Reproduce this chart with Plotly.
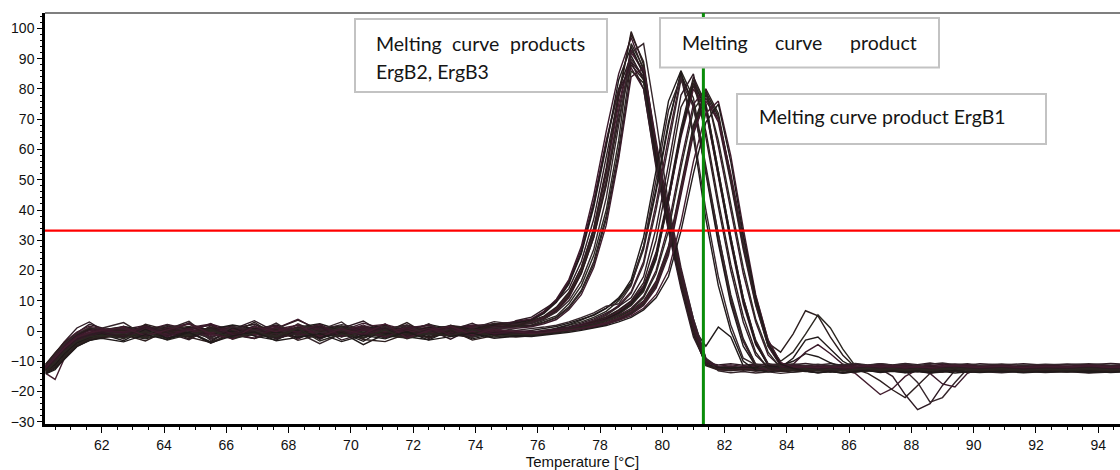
import plotly.graph_objects as go

# Melting-curve derivative traces (-dF/dT) sampled on a shared temperature grid (°C)
temperature = [
    60.2, 60.5, 60.8, 61.2, 61.6, 62.0,
    62.7, 63.4, 64.1, 64.8, 65.5, 66.2, 66.9, 67.6, 68.3, 69.0, 69.7, 70.4, 71.1, 71.8, 72.5, 73.2, 73.9, 74.6, 75.3,
    75.8, 76.2, 76.6, 77.0, 77.4, 77.8, 78.2, 78.6, 79.0, 79.4, 79.8, 80.2, 80.6, 81.0, 81.4, 81.8, 82.2, 82.6, 83.0, 83.4, 83.8,
    84.2, 84.6, 85.0, 85.4, 85.8, 86.2, 86.6, 87.0, 87.4, 87.8, 88.2, 88.6, 89.0, 89.4, 89.8, 90.2,
    90.9, 91.6, 92.3, 93.0, 93.7, 94.4, 95.1,
]

# Products ErgB2 / ErgB3 (peak near 79 °C)
a01 = [-12.5, -9, -5.5, -2, -0.5, 0.5,
       1.2, 0.3, 1.8, -0.6, 0.9, 1.5, -0.2, 0.8, 3.6, 0.4, -0.8, 1.1, 0.6, 1.9, 0.2, 1.0, 1.6, 2.2, 2.4,
       3, 4.5, 7.5, 12, 20, 33, 52, 77, 99, 88, 60, 37, 17, 1, -10.5, -12.5, -12, -12.6, -12.2, -12.8, -12.1,
       -12.4, -12.9, -12.2, -12.6, -12.1, -12.7, -12.3, -12.8, -12.2, -12.5, -12.9, -12.3, -12.6, -12.1, -12.7, -12.4,
       -12.2, -12.8, -12.3, -12.6, -12.1, -12.7, -12.4]
a02 = [-13, -11, -7, -3, -1, 0,
       0.5, 1.8, -0.4, 1.1, 2.3, 0.2, 1.4, -0.9, 0.8, 1.7, 0.1, 2.6, 0.7, -0.3, 1.3, 0.9, 2.0, 1.8, 3.2,
       4, 6.5, 10.5, 17, 28, 45, 66, 85, 97, 86, 58, 35, 16, 0, -11, -12.8, -13.1, -12.7, -13.2, -12.9, -13.3,
       -12.8, -13.2, -12.9, -13.4, -12.7, -13.1, -12.8, -13.3, -12.9, -13.2, -12.6, -13.0, -13.4, -12.8, -13.1, -12.7,
       -13.2, -12.8, -13.3, -12.9, -13.1, -12.7, -13.2]
a03 = [-11.5, -8, -4, -1.5, 0.5, -0.5,
       -0.8, 0.6, 1.2, -1.5, 0.3, 0.9, 2.2, -0.2, 1.0, -0.7, 1.5, 0.4, -1.1, 0.8, 1.8, -0.4, 0.6, 1.2, 1.6,
       2, 3.5, 5, 9, 15, 25, 40, 63, 95, 87, 61, 38, 19, 3, -9.5, -12.2, -11.8, -12.3, -11.9, -12.4, -12.0,
       -11.7, -12.2, -11.9, -12.4, -11.8, -12.1, -12.5, -11.9, -12.2, -11.7, -12.3, -12.0, -11.8, -12.4, -12.1, -11.9,
       -12.3, -11.8, -12.2, -12.5, -11.9, -12.1, -12.4]
a04 = [-14, -16, -9, -4, -2, -1,
       -1.5, 0.2, -0.8, 1.3, -0.2, 0.7, -1.2, 0.4, 1.1, -0.6, 0.3, 1.6, -0.9, 0.5, 1.2, 0.1, 1.4, 1.0, 2.0,
       2.5, 4, 6.5, 11, 19, 31, 49, 73, 93, 85, 57, 34, 15, -1, -11, -12.3, -12.6, -12.1, -12.5, -12.8, -12.2,
       -12.6, -12.1, -12.7, -12.3, -12.9, -14, -17.5, -21, -19, -15, -12.8, -12.2, -12.6, -12.1, -12.5, -12.8,
       -12.3, -12.6, -12.1, -12.7, -12.4, -12.2, -12.6]
a05 = [-12, -10, -6.5, -2.5, -1, 0,
       0.8, -0.5, 1.4, 0.2, -1.0, 1.1, 0.6, 2.0, -0.3, 0.9, 1.7, -0.4, 1.0, 0.3, 2.2, 0.7, 1.1, 2.4, 2.8,
       3.5, 6, 10, 16, 26, 42, 62, 80, 91, 83, 56, 36, 17, 1, -5, 1.3, -2, -11.5, -12.4, -12.0, -12.6,
       -12.2, -12.7, -12.0, -12.5, -12.9, -12.3, -12.6, -12.1, -12.8, -12.4, -12.0, -12.6, -12.3, -12.9, -12.2, -12.5,
       -12.8, -12.3, -12.6, -12.0, -12.5, -12.8, -12.3]
a06 = [-12.8, -8.5, -5, -1.8, 0.2, -0.2,
       0.1, 1.3, -0.6, 0.8, 1.9, -0.2, 0.6, 1.5, -0.9, 0.4, 2.1, 0.8, -0.5, 1.3, 0.2, 1.8, 0.9, 1.3, 2.2,
       2.8, 4.2, 7, 11.5, 19.5, 32, 50, 72, 90, 84, 58, 37, 18, 2, -10, -12.0, -11.6, -12.1, -11.7, -12.2, -11.8,
       -11.5, -12.0, -11.7, -12.2, -11.6, -12.0, -11.8, -12.3, -11.6, -11.9, -12.2, -11.7, -12.0, -11.5, -12.1, -11.8,
       -12.0, -11.6, -12.1, -11.8, -12.2, -11.7, -12.0]
a07 = [-11, -7.5, -3.5, 1, 3, 0.5,
       -0.3, 0.9, 0.2, -1.2, 1.0, 0.5, 3.4, -0.4, 0.3, 1.2, -0.8, 0.6, 1.5, -0.2, 0.7, 1.4, 0.3, 0.8, 1.5,
       1.8, 3, 4.5, 8, 13.5, 23, 38, 60, 89, 84, 59, 39, 20, 4, -9, -11.9, -12.4, -12.0, -12.5, -12.1, -12.6,
       -12.3, -12.7, -12.1, -12.6, -12.2, -12.8, -12.4, -12.0, -12.5, -12.9, -12.3, -12.6, -12.1, -12.7, -12.4, -12.2,
       -12.6, -12.2, -12.7, -12.3, -12.5, -12.1, -12.6]
a08 = [-13.5, -12, -8, -4.5, -2.5, -1.5,
       -0.5, -1.8, 0.4, -0.2, 1.1, -1.0, 0.3, -0.6, 0.9, 1.6, -0.3, 0.5, -1.2, 0.8, 0.1, 1.2, 0.6, 1.5, 1.9,
       2.6, 4, 6.8, 11.5, 19, 31, 48, 70, 88, 83, 57, 35, 16, 0, -11.5, -12.9, -12.5, -13.0, -12.6, -13.1, -12.7,
       -13.0, -12.6, -13.2, -12.8, -13.1, -12.7, -14, -16.5, -19.5, -22, -18, -14, -12.8, -13.1, -12.6, -13.0,
       -12.7, -13.2, -12.8, -13.0, -12.6, -13.1, -12.8]
a09 = [-12.2, -9.5, -6, -2.8, -1.2, 0.3,
       1.0, 0.2, 2.2, 0.6, -0.5, 1.4, 0.1, 0.9, 3.9, -0.1, 0.7, 1.2, 0.4, 2.0, -0.6, 0.8, 1.6, 2.3, 3.0,
       3.8, 6.2, 10, 16.5, 27, 43, 63, 80, 87, 80, 55, 35, 17, 2, -10, -12.3, -11.9, -12.4, -12.0, -12.5, -12.1,
       -12.4, -12.0, -12.5, -12.1, -12.6, -12.2, -12.7, -12.3, -12.0, -12.5, -12.1, -12.6, -12.2, -12.8, -12.3, -12.0,
       -12.4, -12.1, -12.6, -12.2, -12.7, -12.3, -12.0]
a10 = [-12.6, -10.5, -7.5, -3.5, -1.5, -0.8,
       0.3, -0.9, 0.7, 1.5, -0.4, 0.2, 1.0, -1.3, 0.6, 0.3, 1.4, -0.7, 0.9, 0.2, -0.5, 1.1, 0.4, 1.0, 1.3,
       1.6, 2.8, 4.3, 7.5, 13, 22, 37, 58, 86, 82, 58, 38, 19, 3, -9.5, -12.1, -12.5, -12.0, -12.4, -12.1, -12.6,
       -12.2, -12.6, -12.1, -12.5, -12.0, -12.4, -12.7, -12.2, -12.6, -12.1, -12.5, -12.9, -12.3, -12.6, -12.2, -12.5,
       -12.1, -12.5, -12.2, -12.7, -12.3, -12.6, -12.2]
a11 = [-13.2, -9.8, -6.2, -3.2, -1.6, -0.4,
       0.6, -0.3, 1.1, 2.4, 0.0, 1.3, -0.6, 0.7, 1.9, 0.5, -0.2, 1.4, 2.2, 0.3, 1.0, -0.1, 1.2, 1.7, 2.3,
       3.1, 4.6, 7.2, 12.5, 21, 34, 53, 75, 92, 86, 59, 36, 16, 0, -11, -12.6, -13.0, -12.5, -12.9, -12.4, -12.8,
       -12.5, -12.9, -12.4, -12.8, -13.1, -12.6, -12.9, -12.5, -13.0, -12.6, -12.9, -12.4, -12.8, -12.5, -13.0, -12.7,
       -12.9, -12.5, -12.8, -13.1, -12.6, -12.9, -12.5]
a12 = [-11.8, -8.8, -4.8, -1.2, 0.8, 0.2,
       1.5, 0.4, -0.7, 1.2, 0.6, 2.0, 0.9, -0.4, 1.3, 2.4, 0.2, 0.8, 1.9, -0.3, 1.1, 1.5, 0.7, 2.0, 2.6,
       3.6, 5.8, 9.5, 15.5, 25.5, 41, 61, 83, 94, 85, 57, 35, 15, -1, -11.2, -12.0, -12.3, -11.8, -12.2, -11.9, -12.4,
       -12.0, -12.3, -11.8, -12.2, -12.5, -11.9, -12.2, -11.8, -12.3, -12.0, -12.4, -11.9, -12.2, -11.7, -12.1, -12.4,
       -11.9, -12.3, -12.0, -12.4, -11.8, -12.2, -12.0]
a13 = [-13.8, -10.2, -6.4, -2.9, -0.8, 0.9,
       2.8, -1.6, 0.5, 3.2, -2.4, 1.2, -0.9, 2.6, -1.8, 0.4, 3.0, -2.2, 1.6, -0.7, 2.4, -1.3, 0.9, 3.1, 2.2,
       2.7, 3.9, 6.2, 10, 16.5, 27, 44, 68, 92, 95, 70, 42, 21, 4, -9, -13.2, -13.8, -13.4, -13.9, -13.5, -14.0,
       -13.6, -13.2, -13.8, -13.4, -13.9, -13.5, -13.1, -13.7, -13.3, -13.8, -13.4, -13.9, -13.5, -13.2, -13.7, -13.4,
       -13.8, -13.3, -13.7, -13.4, -13.9, -13.5, -13.2]
a14 = [-12.0, -8.0, -4.4, -0.6, 2.2, 1.0,
       -2.6, 1.9, -0.8, 2.7, -3.1, 0.6, 2.3, -1.5, 1.4, -2.8, 0.9, 3.3, -1.1, 1.8, -2.5, 0.2, 2.6, -0.6, 3.4,
       4.6, 7.2, 9.8, 14, 23, 37, 57, 78, 89, 80, 54, 33, 14, -2, -10.5, -11.2, -10.8, -11.3, -10.9, -11.4, -10.7,
       -11.1, -10.7, -11.2, -10.8, -11.3, -10.9, -11.4, -10.8, -11.2, -10.7, -11.1, -10.6, -11.2, -10.9, -11.3, -10.8,
       -11.2, -10.8, -11.3, -10.9, -11.1, -10.7, -11.2]
a15 = [-12.9, -9.6, -5.9, -2.3, -1.0, -0.2,
       -1.9, 2.2, 0.4, -2.6, 1.7, -0.9, 2.9, -1.7, 0.8, 2.1, -2.0, 1.3, -0.4, 2.8, -1.4, 1.9, -0.3, 2.5, 1.6,
       3.4, 4.9, 7.9, 12.8, 21, 34, 54, 79, 98, 89, 61, 37, 16, 0, -11.2, -12.7, -13.1, -12.6, -13.2, -12.8, -13.3,
       -12.9, -13.3, -12.8, -13.2, -12.7, -13.1, -12.6, -13.2, -12.8, -13.3, -12.9, -13.4, -12.8, -13.1, -12.7, -13.2,
       -12.8, -13.3, -12.9, -13.2, -12.7, -13.1, -12.9]
a16 = [-11.6, -8.4, -5.0, -1.4, 0.6, -0.9,
       1.6, -2.1, 0.8, -0.6, 2.5, -1.9, 0.3, 1.7, -2.7, 1.1, -0.5, 2.0, -1.6, 0.7, -2.3, 1.5, -0.8, 1.2, 0.9,
       1.4, 2.4, 3.8, 7, 12, 21, 35, 57, 84, 87, 63, 40, 20, 3, -10, -11.6, -11.2, -11.7, -11.3, -11.8, -11.4,
       -11.2, -11.6, -11.1, -11.7, -11.3, -11.8, -11.4, -11.0, -11.5, -11.2, -11.7, -11.3, -11.8, -11.4, -11.1, -11.6,
       -11.3, -11.7, -11.2, -11.6, -11.1, -11.5, -11.3]

# Product ErgB1 and the second product (peaks between 80.4 and 81.8 °C)
b01 = [-12.4, -9.2, -5.8, -2.4, -1.4, -1.0,
       -0.6, -1.9, 0.3, -1.2, -0.1, -2.3, -0.8, 0.6, -1.5, -0.4, 0.8, -1.7, -0.2, -1.0, 0.4, -1.4, -0.5, -1.1, -0.3,
       -0.6, 0.3, 0.8, 1.8, 3, 4.5, 6.5, 10, 15.5, 27, 46, 68, 86, 77, 55, 32, 12, -2.5, -11, -12.6, -12.1,
       -12.5, -12.1, -12.6, -12.2, -12.8, -12.3, -12.6, -12.0, -12.5, -12.2, -12.7, -12.3, -12.0, -12.6, -12.2, -12.5,
       -12.3, -12.7, -12.2, -12.5, -12.1, -12.6, -12.3]
b02 = [-13.8, -11.5, -7.2, -3.6, -1.8, -2.2,
       -1.3, -0.2, -2.1, -0.7, 0.5, -1.5, -0.3, -2.4, -0.9, 0.2, -1.3, -0.5, -2.0, 0.1, -0.8, -1.6, 0.3, -0.9, -1.4,
       -0.8, -0.2, 0.6, 1.2, 2.2, 3.6, 5.5, 8.5, 13, 23, 42, 64, 84, 75, 53, 30, 10, -3.5, -11.5, -12.9, -12.5,
       -12.9, -12.4, -13.0, -12.6, -13.1, -12.7, -12.9, -12.5, -13.2, -12.8, -12.4, -13.0, -12.6, -12.9, -12.5, -13.1,
       -12.7, -13.0, -12.6, -13.2, -12.8, -12.5, -12.9]
b03 = [-11.2, -7.8, -4.4, -1.6, 0.4, -0.6,
       -1.0, 0.4, -0.6, -1.8, 0.9, -0.3, -1.4, 0.2, -0.7, -2.0, 0.5, -0.9, 0.3, -1.5, -0.4, 0.6, -1.2, -0.2, -0.6,
       0.2, 0.9, 1.5, 2.6, 3.8, 5.2, 7.5, 11, 16, 28, 47, 69, 85, 75, 52, 29, 9, -5, -11.5, -12.0, -11.4,
       -10, -7.5, -8.5, -10.5, -12.0, -11.6, -12.0, -11.5, -11.9, -11.4, -11.8, -12.1, -11.6, -11.9, -11.4, -11.8,
       -11.6, -12.0, -11.5, -11.9, -11.6, -12.1, -11.7]
b04 = [-12.9, -10.2, -6.8, -3.8, -2.6, -1.6,
       -2.2, -0.8, -1.5, 0.3, -2.6, -1.1, 0.0, -1.8, -0.6, -4.2, -0.9, 0.2, -1.6, -2.3, -0.4, -1.2, -2.1, -0.5, -1.3,
       -1.5, -0.6, 0.2, 0.9, 2.0, 3.3, 5.2, 8, 12.5, 22, 40, 62, 83, 74, 53, 31, 11, -3, -11, -12.7, -13.2,
       -12.8, -13.3, -12.9, -13.4, -12.8, -13.2, -12.9, -13.5, -13.0, -12.7, -13.3, -12.9, -13.4, -12.8, -13.1, -13.5,
       -13.0, -13.4, -12.9, -13.3, -12.8, -13.2, -13.5]
b05 = [-12.2, -8.6, -5.2, -2.2, -0.9, -0.3,
       -0.4, -1.6, 0.7, -0.9, -0.1, 1.0, -1.3, -0.5, 0.4, -1.7, -0.2, 0.9, -0.8, -1.9, 0.2, -0.6, 0.5, -1.0, -0.4,
       -1.0, -0.3, 0.4, 0.8, 1.9, 3, 4.6, 6.8, 9.8, 15, 26, 45, 67, 84, 75, 53, 31, 11, -3.5, -11, -12.4,
       -12.0, -12.5, -12.1, -12.6, -12.2, -12.7, -12.3, -12.5, -15, -21, -26, -24, -18, -13, -12.2, -12.5,
       -12.1, -12.6, -12.2, -12.5, -12.0, -12.4, -12.7]
b06 = [-13.0, -10.8, -7.0, -3.2, -1.4, -0.6,
       -1.2, 0.1, -0.5, -2.0, -0.3, 0.6, -1.0, -2.2, 0.2, -0.7, -1.5, 0.4, -0.3, -1.1, 0.7, -1.8, -0.6, 0.1, -0.8,
       -0.5, -1.0, -0.2, 0.6, 1.4, 2.4, 3.8, 5.8, 8.6, 13.5, 24, 43, 65, 82, 74, 52, 30, 10, -4, -11.2, -12.6,
       -12.3, -12.8, -12.4, -12.9, -12.5, -12.2, -12.7, -12.3, -12.8, -12.4, -12.9, -12.5, -12.1, -12.6, -12.3, -12.8,
       -12.4, -12.9, -12.5, -12.2, -12.7, -12.4, -12.8]
b07 = [-11.6, -8.0, -4.6, -1.9, -0.7, 0.0,
       0.3, -1.0, -0.2, 0.8, -1.4, -0.6, 0.5, -0.9, -2.1, 0.0, -0.7, 1.1, -0.4, -1.3, -0.1, 0.6, -1.0, -0.3, -0.2,
       0.0, -0.6, 0.3, 1.1, 2.0, 3.2, 4.4, 6.4, 9.4, 14.5, 25, 44, 66, 81, 73, 51, 29, 9, -4.5, -11, -12.0,
       -11, -7, -4.5, -7.5, -11, -12.3, -11.9, -12.4, -12.0, -12.5, -12.1, -11.8, -12.3, -11.9, -12.4, -12.0,
       -12.3, -11.9, -12.4, -12.0, -12.5, -11.8, -12.2]
b08 = [-12.7, -9.8, -6.6, -3.0, -2.0, -1.2,
       -1.8, -0.5, -2.4, -1.0, 0.2, -1.3, -2.5, -0.4, -1.1, 0.3, -1.9, -0.8, -2.2, -0.2, -1.4, -0.6, -1.7, -0.9, -1.1,
       -1.3, -0.7, 0.1, 0.5, 1.2, 2.2, 3.6, 5.5, 8.4, 13, 23.5, 43, 66, 83, 75, 53, 31, 11, -3, -10.8, -12.7,
       -13.0, -12.6, -13.1, -12.7, -13.2, -12.8, -13.0, -12.6, -13.1, -12.7, -13.3, -12.9, -12.6, -13.1, -12.8, -13.2,
       -12.8, -13.1, -12.7, -13.0, -12.6, -13.2, -12.9]
b09 = [-11.4, -7.4, -3.6, -0.4, 1.6, 0.8,
       -0.2, 0.9, -0.8, 0.3, -1.2, 0.6, -0.5, 1.2, -0.9, -0.1, 0.5, -1.4, 0.2, -0.6, 0.8, -0.7, 0.1, -0.4, -0.7,
       -0.9, -0.4, 0.0, 0.7, 1.6, 2.7, 4.2, 6.2, 9.2, 14.2, 25, 43, 64, 80, 73, 52, 30, 10.5, -3.5, -11, -12.1,
       -11.7, -12.2, -11.8, -12.3, -11.9, -11.6, -12.1, -11.7, -12.2, -11.8, -12.3, -11.9, -11.5, -12.0, -11.7, -12.2,
       -11.8, -12.3, -11.9, -11.6, -12.1, -11.7, -12.2]
b10 = [-14.2, -12.8, -9.0, -5.0, -3.2, -2.0,
       -1.4, -2.6, -0.9, -1.8, -0.2, -2.3, -1.1, -0.3, -2.0, -1.4, -0.5, -4.5, -1.0, -0.4, -1.9, -0.8, -1.5, -0.6, -1.2,
       -1.1, -0.5, 0.0, 0.7, 1.5, 2.6, 4.0, 6.0, 9.0, 14, 24.5, 44, 65, 82, 74, 52, 30, 10, -4, -11.5, -12,
       -9, -3, -2, -6, -10, -12.2, -12.6, -12.1, -12.5, -12.0, -12.4, -12.7, -12.2, -12.6, -12.1, -12.5,
       -12.2, -12.6, -12.1, -12.5, -12.8, -12.3, -12.6]
b11 = [-12.0, -8.8, -5.4, -2.6, -1.2, -0.5,
       -0.9, 0.4, -1.3, -0.2, 0.7, -1.0, -0.4, 0.9, -1.6, -0.3, 0.2, -0.9, 0.8, -1.2, -0.5, 0.4, -0.8, -1.3, -0.6,
       -1.0, -0.8, -0.3, 0.2, 0.8, 1.6, 2.6, 4.2, 6.2, 9.4, 15.5, 27, 47, 67, 79, 71, 51, 29, 9.5, -4.5, -11.2,
       -12.3, -12.8, -12.4, -12.9, -12.5, -12.2, -12.7, -12.3, -12.8, -13, -17, -23.5, -22, -17, -12.5, -12.6,
       -12.3, -12.8, -12.4, -12.7, -12.2, -12.6, -12.9]
b12 = [-13.4, -10.6, -7.2, -3.8, -2.2, -1.4,
       -2.0, -0.7, -1.6, -0.3, -4.0, -1.0, 0.1, -1.7, -0.8, -2.4, -0.5, -1.3, -0.1, -1.9, -0.9, -1.5, -0.4, -1.2, -1.5,
       -1.3, -1.1, -0.6, -0.1, 0.6, 1.3, 2.3, 3.8, 5.8, 8.8, 14.8, 26, 46, 66, 78, 70, 50, 28, 9, -5, -11.5,
       -12.5, -12.9, -12.6, -13.1, -12.7, -13.2, -12.8, -12.5, -13.0, -12.6, -13.1, -12.7, -13.3, -12.8, -12.6, -13.0,
       -12.7, -13.1, -12.8, -13.2, -12.6, -13.0, -12.7]
b13 = [-11.0, -7.2, -3.8, -1.0, 0.9, 0.4,
       0.1, -1.1, 0.6, -0.4, 1.0, -0.8, 0.3, -1.5, 0.5, -0.2, 0.9, -1.0, -0.3, 0.7, -0.9, 0.2, -0.6, 0.4, -0.4,
       -0.7, -0.2, 0.2, 0.6, 1.2, 2.0, 3.1, 4.6, 6.8, 10, 16.5, 28, 48, 68, 80, 72, 51, 29, 10, -4, -7,
       -1, 6.7, 5, -2, -8, -12, -11.7, -12.2, -11.8, -12.3, -11.9, -11.6, -12.1, -11.7, -12.2, -11.8,
       -12.1, -11.7, -12.2, -11.8, -12.3, -11.9, -11.6]
b14 = [-12.5, -9.6, -6.0, -3.0, -1.6, -0.9,
       -1.5, -0.2, -1.1, 0.4, -1.8, -0.6, -1.3, 0.2, -0.9, -2.0, -0.4, -1.2, 0.5, -1.5, -0.7, -0.1, -1.4, -0.8, -1.0,
       -1.2, -0.9, -0.4, 0.0, 0.5, 1.2, 2.1, 3.6, 5.5, 8.4, 14.2, 25, 45, 65, 77, 69, 49, 27, 8.5, -5, -11.3,
       -12.4, -12.0, -12.5, -12.1, -12.6, -12.2, -12.7, -12.3, -12.0, -12.5, -12.6, -14, -17.5, -18.5, -14, -12.3,
       -12.6, -12.2, -12.7, -12.3, -12.0, -12.5, -12.2]
b15 = [-13.0, -11.8, -8.4, -4.4, -2.4, -1.8,
       -1.1, -2.3, -0.6, -1.5, 0.0, -1.9, -0.8, -2.5, -0.5, -1.2, -1.8, -0.3, -1.4, -2.1, -0.6, -1.0, -1.9, -0.7, -1.2,
       -1.4, -0.9, -0.5, 0.1, 0.7, 1.5, 2.5, 4.0, 6.0, 9.0, 15.2, 26.5, 46.5, 67, 79, 71, 50, 28.5, 9.5, -4.5, -10,
       -7, -1, 5.3, 1, -6, -11.5, -12.9, -12.5, -13.0, -12.6, -13.1, -12.7, -12.4, -12.9, -12.5, -13.0,
       -12.6, -13.0, -12.7, -13.2, -12.8, -12.5, -12.9]
b16 = [-12.3, -9.0, -5.6, -2.0, -0.4, 0.2,
       -0.4, 0.7, -0.9, 0.3, -0.6, 1.0, -1.2, 0.2, 0.8, -0.5, -1.3, 0.4, -0.2, 0.9, -0.7, 0.1, -0.3, 0.5, -0.2,
       -0.6, -0.3, 0.1, 0.5, 1.0, 1.8, 2.8, 4.3, 6.4, 9.6, 16, 27.5, 47, 66, 76, 70, 52, 31, 11.5, -3, -10.5,
       -12.2, -11.8, -12.3, -11.9, -12.4, -12.0, -11.7, -12.2, -11.8, -12.3, -11.9, -12.4, -12.0, -11.6, -12.1, -11.7,
       -12.0, -11.6, -12.1, -11.8, -12.3, -11.9, -12.2]
b17 = [-13.1, -11.2, -7.6, -3.9, -2.1, -1.0,
       -3.2, 0.6, -2.4, -0.2, -3.6, 1.1, -1.7, -3.0, 0.4, -2.2, -0.5, -3.4, 0.8, -1.9, -2.9, 0.2, -2.6, -0.9, -1.6,
       -0.9, -0.2, 0.9, 2.1, 3.6, 5.4, 7.6, 10.5, 17, 31, 53, 76, 86, 64, 37, 15, 0, -10, -12.9, -13.5, -13.1,
       -13.6, -13.2, -13.7, -13.3, -13.8, -13.4, -13.0, -13.5, -13.1, -13.6, -13.2, -13.7, -13.3, -13.9, -13.4, -13.1,
       -13.5, -13.1, -13.6, -13.2, -13.7, -13.3, -13.6]
b18 = [-11.8, -8.2, -4.2, -0.9, 1.2, 0.5,
       0.9, -1.4, 2.1, -0.3, -2.2, 1.4, 0.2, -1.8, 2.4, -0.7, 1.0, -2.5, 0.6, 1.8, -1.2, 0.3, -2.0, 1.2, 0.2,
       0.7, 1.3, 1.9, 3.0, 4.4, 6.0, 8.2, 9, 15, 28, 50, 73, 84, 66, 40, 18, 2, -9, -11.2, -10.8, -11.3,
       -10.9, -11.4, -11.0, -11.5, -11.1, -10.7, -11.2, -10.8, -11.3, -10.9, -11.4, -11.0, -10.6, -11.1, -10.8, -11.3,
       -10.9, -11.4, -11.0, -11.2, -10.8, -11.3, -11.0]
b19 = [-12.6, -9.4, -6.1, -2.7, -1.3, -0.4,
       -2.1, 1.3, -0.6, -2.9, 0.9, -1.5, 1.7, -2.6, -0.2, 1.5, -3.0, -0.8, 1.1, -1.9, 0.5, -2.7, 0.8, -1.0, -0.5,
       -0.7, 0.0, 0.6, 1.4, 2.6, 4.0, 5.9, 8.1, 11, 18, 34, 55, 78, 85, 64, 41, 20, 3, -8, -12.0, -12.4,
       -12.1, -12.6, -12.2, -12.7, -12.3, -11.9, -12.4, -12.0, -12.5, -12.1, -12.6, -12.2, -11.8, -12.3, -12.0, -12.5,
       -12.1, -12.6, -12.2, -12.4, -12.0, -12.5, -12.2]
b20 = [-13.6, -12.1, -8.8, -4.8, -2.8, -2.2,
       -1.2, -3.3, 0.1, -2.0, -3.8, -0.6, -2.5, 0.5, -3.1, -1.3, -0.1, -2.8, -3.5, -0.9, -2.2, 0.3, -3.0, -1.5, -2.0,
       -1.6, -1.0, -0.3, 0.6, 1.7, 3.0, 4.7, 7.0, 10, 16, 30, 51, 74, 82, 66, 43, 22, 5, -7, -12.4, -13.3,
       -13.0, -13.4, -12.9, -13.5, -13.1, -13.6, -13.2, -12.8, -13.3, -12.9, -13.4, -13.0, -13.5, -13.1, -13.6, -13.2,
       -12.9, -13.4, -13.0, -13.5, -13.1, -13.3, -12.9]
b21 = [-11.9, -8.6, -5.3, -1.7, 0.1, 0.6,
       -0.7, 1.6, -1.9, 0.8, 2.0, -1.1, -2.4, 1.3, -0.4, 2.2, -1.7, 0.5, -2.1, 1.0, 1.9, -1.4, 0.7, -0.9, 0.1,
       -0.3, 0.1, 0.5, 1.0, 1.8, 2.6, 3.7, 5.2, 7.5, 11.5, 20, 35, 56, 75, 80, 61, 40, 19, 3, -8, -11.8,
       -11.4, -11.9, -11.5, -12.0, -11.6, -11.2, -11.7, -11.3, -11.8, -11.4, -11.9, -11.5, -11.1, -11.6, -11.3, -11.8,
       -11.4, -11.9, -11.5, -11.7, -11.3, -11.8, -11.5]
b22 = [-13.3, -10.4, -6.9, -3.4, -1.9, -1.3,
       -2.4, -0.1, -3.0, -1.2, 0.6, -2.7, -0.5, -1.9, 0.9, -3.3, -1.0, -2.2, 0.3, -2.6, -0.7, -1.6, 0.5, -2.0, -1.1,
       -1.2, -0.6, 0.0, 0.5, 1.3, 2.2, 3.4, 4.9, 7, 11, 19, 33, 54, 73, 79, 63, 42, 21, 4, -7, -12.2,
       -12.9, -12.5, -13.0, -12.6, -13.1, -12.7, -12.3, -12.8, -12.4, -12.9, -12.5, -13.0, -12.6, -12.2, -12.7, -12.9,
       -12.5, -13.0, -12.6, -12.8, -12.4, -12.9, -12.6]
b23 = [-12.1, -8.9, -5.5, -2.1, -0.7, 0.3,
       1.2, -1.6, 0.4, 2.3, -0.9, -2.6, 1.5, -0.2, 2.0, -1.8, 0.7, -1.1, 2.4, -2.3, 0.2, 1.6, -1.3, 0.6, -0.3,
       -0.8, -0.5, -0.1, 0.3, 0.8, 1.5, 2.4, 3.5, 5, 7.5, 12, 20, 36, 56, 72, 76, 58, 34, 12, -3, -10.5,
       -12.0, -11.6, -12.1, -11.7, -12.2, -11.8, -11.4, -11.9, -11.5, -12.0, -11.6, -12.1, -11.7, -11.3, -11.8, -12.0,
       -11.6, -12.1, -11.7, -11.9, -11.5, -12.0, -11.7]
b24 = [-14.0, -12.4, -9.3, -5.2, -3.1, -2.4,
       -3.6, -1.2, -2.8, -0.4, -3.9, -1.6, -0.3, -3.2, -2.1, -0.8, -3.5, -1.4, -2.6, -0.2, -3.0, -1.8, -0.7, -2.4, -1.7,
       -1.8, -1.4, -0.9, -0.4, 0.2, 0.9, 1.8, 3.0, 4.5, 7, 11, 18, 33, 52, 69, 75, 56, 32, 11, -4, -11,
       -12.3, -13.3, -13.8, -13.4, -13.9, -13.5, -13.1, -13.6, -13.2, -13.7, -13.3, -13.8, -13.4, -13.0, -13.5, -13.7,
       -13.3, -13.8, -13.4, -13.6, -13.2, -13.7, -13.4]

curves = [a01, a02, a03, a04, a05, a06, a07, a08, a09, a10, a11, a12, a13, a14, a15, a16,
          b01, b02, b03, b04, b05, b06, b07, b08, b09, b10, b11, b12,
          b13, b14, b15, b16, b17, b18, b19, b20, b21, b22, b23, b24]

threshold_level = 33.2        # horizontal threshold line
cursor_temperature = 81.32    # vertical cursor line

x_range = [60.176, 94.70]
y_range = [-30.74, 105.12]

trace_colors = ["#2c1e1e", "#3b1a2b", "#2b2721", "#421d2e", "#201a1a", "#35262b", "#2e1b24"]

# figure geometry (pixels)
W, H = 1120, 470
ML, MR, MT, MB = 45, 0, 13, 46
PW, PH = W - ML - MR, H - MT - MB


def px(x):
    return (x - ML) / PW


def py(y):
    return (H - MB - y) / PH


fig = go.Figure()
for i, values in enumerate(curves):
    assert len(values) == len(temperature), i
    fig.add_trace(go.Scatter(
        x=temperature, y=values, mode="lines",
        line=dict(color=trace_colors[i % len(trace_colors)], width=1.4),
        hoverinfo="skip", showlegend=False,
    ))

tick_font = dict(family="Liberation Sans, Arial, sans-serif", size=14, color="#111111")

fig.update_xaxes(
    range=x_range, tick0=62, dtick=2, ticks="outside", ticklen=6, tickwidth=1, tickcolor="black",
    showline=True, linewidth=2.5, linecolor="black", showgrid=False, zeroline=False,
    tickfont=tick_font, automargin=False,
    minor=dict(tick0=60, dtick=0.5, ticks="outside", ticklen=3, tickwidth=1, tickcolor="black", showgrid=False),
    title=dict(text="Temperature [°C]", font=dict(family="Liberation Sans, Arial, sans-serif", size=15, color="#111111"),
               standoff=1),
)
fig.update_yaxes(
    range=y_range, tick0=0, dtick=10, ticks="outside", ticklen=5, tickwidth=1, tickcolor="black",
    showline=True, linewidth=2.5, linecolor="black", showgrid=False, zeroline=False,
    tickfont=tick_font, automargin=False,
    minor=dict(tick0=0, dtick=2, ticks="outside", ticklen=2, tickwidth=1, tickcolor="black", showgrid=False),
)

shapes = [
    # top frame line
    dict(type="line", xref="paper", yref="paper", x0=0, x1=1, y0=1, y1=1,
         line=dict(color="black", width=1.2), layer="above"),
    dict(type="line", xref="paper", yref="y", x0=0, x1=1, y0=threshold_level, y1=threshold_level,
         line=dict(color="#ff0000", width=2.3), layer="above"),
    dict(type="line", xref="x", yref="paper", x0=cursor_temperature, x1=cursor_temperature, y0=0, y1=1,
         line=dict(color="#0a8c0a", width=3), layer="above"),
]

# label boxes (pixel rectangles)
boxes = [(355, 19, 607, 92), (660, 18, 939, 67.5), (737, 94, 1046, 144)]
for x0, y0, x1, y1 in boxes:
    shapes.append(dict(type="rect", xref="paper", yref="paper",
                       x0=px(x0), x1=px(x1), y0=py(y1), y1=py(y0),
                       fillcolor="white", line=dict(color="#c3c3c3", width=2), layer="above"))
fig.update_layout(shapes=shapes)

label_font = dict(family="Lato, Open Sans, sans-serif", size=19.5, color="#151515")
words = [
    ("Melting", 376, 43.3), ("curve", 451.7, 43.3), ("products", 510, 43.3),
    ("ErgB2, ErgB3", 376, 71),
    ("Melting", 681.7, 42.3), ("curve", 775, 42.3), ("product", 850, 42.3),
    ("Melting curve product ErgB1", 759, 116.7),
]
for text, x, y in words:
    fig.add_annotation(text=text, xref="paper", yref="paper", x=px(x), y=py(y),
                       xanchor="left", yanchor="middle", showarrow=False, font=label_font,
                       borderpad=0, borderwidth=0)

fig.update_layout(
    width=W, height=H, margin=dict(l=ML, r=MR, t=MT, b=MB, pad=0),
    paper_bgcolor="white", plot_bgcolor="white", showlegend=False,
)

fig.write_html("out.html")
